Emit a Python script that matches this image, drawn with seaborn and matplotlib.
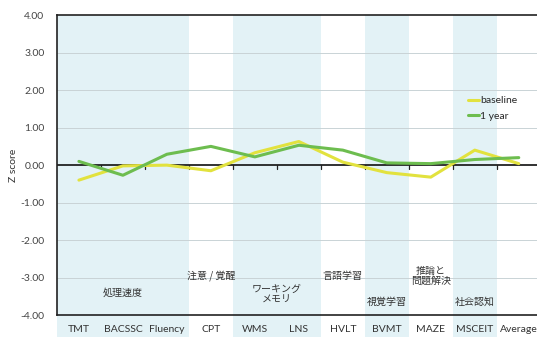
import matplotlib
matplotlib.use("Agg")
import matplotlib.pyplot as plt
import seaborn as sns
import pandas as pd

tests = ["TMT", "BACSSC", "Fluency", "CPT", "WMS", "LNS",
         "HVLT", "BVMT", "MAZE", "MSCEIT", "Average"]
baseline = [-0.40, -0.02, 0.00, -0.15, 0.33, 0.63, 0.08, -0.20, -0.32, 0.40, 0.04]
one_year = [0.10, -0.27, 0.29, 0.50, 0.22, 0.53, 0.40, 0.06, 0.04, 0.15, 0.20]
series_names = ["baseline", "1 year"]
y_ticks = [-4, -3, -2, -1, 0, 1, 2, 3, 4]

# cognitive domains: (first test index, last test index, label, label x, label y, shaded)
domains = [
    (0, 2, "処理速度", 1.0, -3.4, True),
    (3, 3, "注意 / 覚醒", 3.0, -2.95, False),
    (4, 5, "ワーキング\nメモリ", 4.5, -3.45, True),
    (6, 6, "言語学習", 6.0, -2.95, False),
    (7, 7, "視覚学習", 7.0, -3.65, True),
    (8, 8, "推論と\n問題解決", 8.0, -2.95, False),
    (9, 9, "社会認知", 9.0, -3.65, True),
]

LATIN = "Lato"
CJK = "Noto Sans CJK JP"

sns.set_theme(style="white")
plt.rcParams["font.family"] = [LATIN, CJK, "DejaVu Sans"]

df = pd.DataFrame({
    "test": tests * 2,
    "z": baseline + one_year,
    "time": [series_names[0]] * len(tests) + [series_names[1]] * len(tests),
})

fig = plt.figure(figsize=(5.37, 3.37), dpi=100)
ax = fig.add_axes([0.106, 0.065, 0.901, 0.890])

band_color = "#e3f2f6"
for start, end, label, lx, ly, shaded in domains:
    if shaded:
        ax.axvspan(start - 0.5, end + 0.5, ymin=-0.075, ymax=1.0,
                   color=band_color, lw=0, zorder=0, clip_on=False)

for t in y_ticks:
    if t not in (0, -4, 4):
        ax.axhline(t, color="#c9d3d6", lw=0.7, zorder=1)

sns.lineplot(data=df, x="test", y="z", hue="time", sort=False,
             palette={"baseline": "#e2e23e", "1 year": "#6dbd4f"},
             linewidth=2.2, ax=ax, zorder=3, legend=False)

ax.axhline(0, color="#222222", lw=1.3, zorder=2)
# small category-boundary ticks on the zero line
for i in range(1, len(tests)):
    ax.plot([i - 0.5, i - 0.5], [0, -0.1], color="#222222", lw=0.9, zorder=2)

ax.set_xlim(-0.5, len(tests) - 0.5)
ax.set_ylim(-4, 4)
ax.set_yticks(y_ticks)
ax.set_yticklabels([f"{v:.2f}" for v in y_ticks])
ax.tick_params(axis="y", length=0, labelsize=7.5, labelcolor="#444444", pad=9)
ax.tick_params(axis="x", length=0, labelsize=7.5, labelcolor="#333333", pad=7)
ax.set_xlabel("")
ax.set_ylabel("Z score", fontsize=7.5, color="#333333")
ax.yaxis.set_label_coords(-0.08, 0.5)

for side in ["left", "top", "bottom"]:
    ax.spines[side].set_color("#222222")
    ax.spines[side].set_linewidth(1.2)
ax.spines["right"].set_visible(False)
ax.patch.set_alpha(0)

for start, end, label, lx, ly, shaded in domains:
    ax.text(lx, ly, label, ha="center", va="center", fontsize=7.2,
            color="#333333", family=[CJK, "DejaVu Sans"], linespacing=1.05)

handles = [
    plt.Line2D([], [], color="#e2e23e", lw=2.2),
    plt.Line2D([], [], color="#6dbd4f", lw=2.2),
]
ax.legend(handles, series_names, loc="upper left",
          bbox_to_anchor=(468 / 537, 1 - 96 / 337), bbox_transform=fig.transFigure,
          frameon=False, fontsize=7.5, handlelength=1.1, handletextpad=0.1,
          labelspacing=0.6, borderaxespad=0, borderpad=0)

fig.savefig("out.png", dpi=100)
